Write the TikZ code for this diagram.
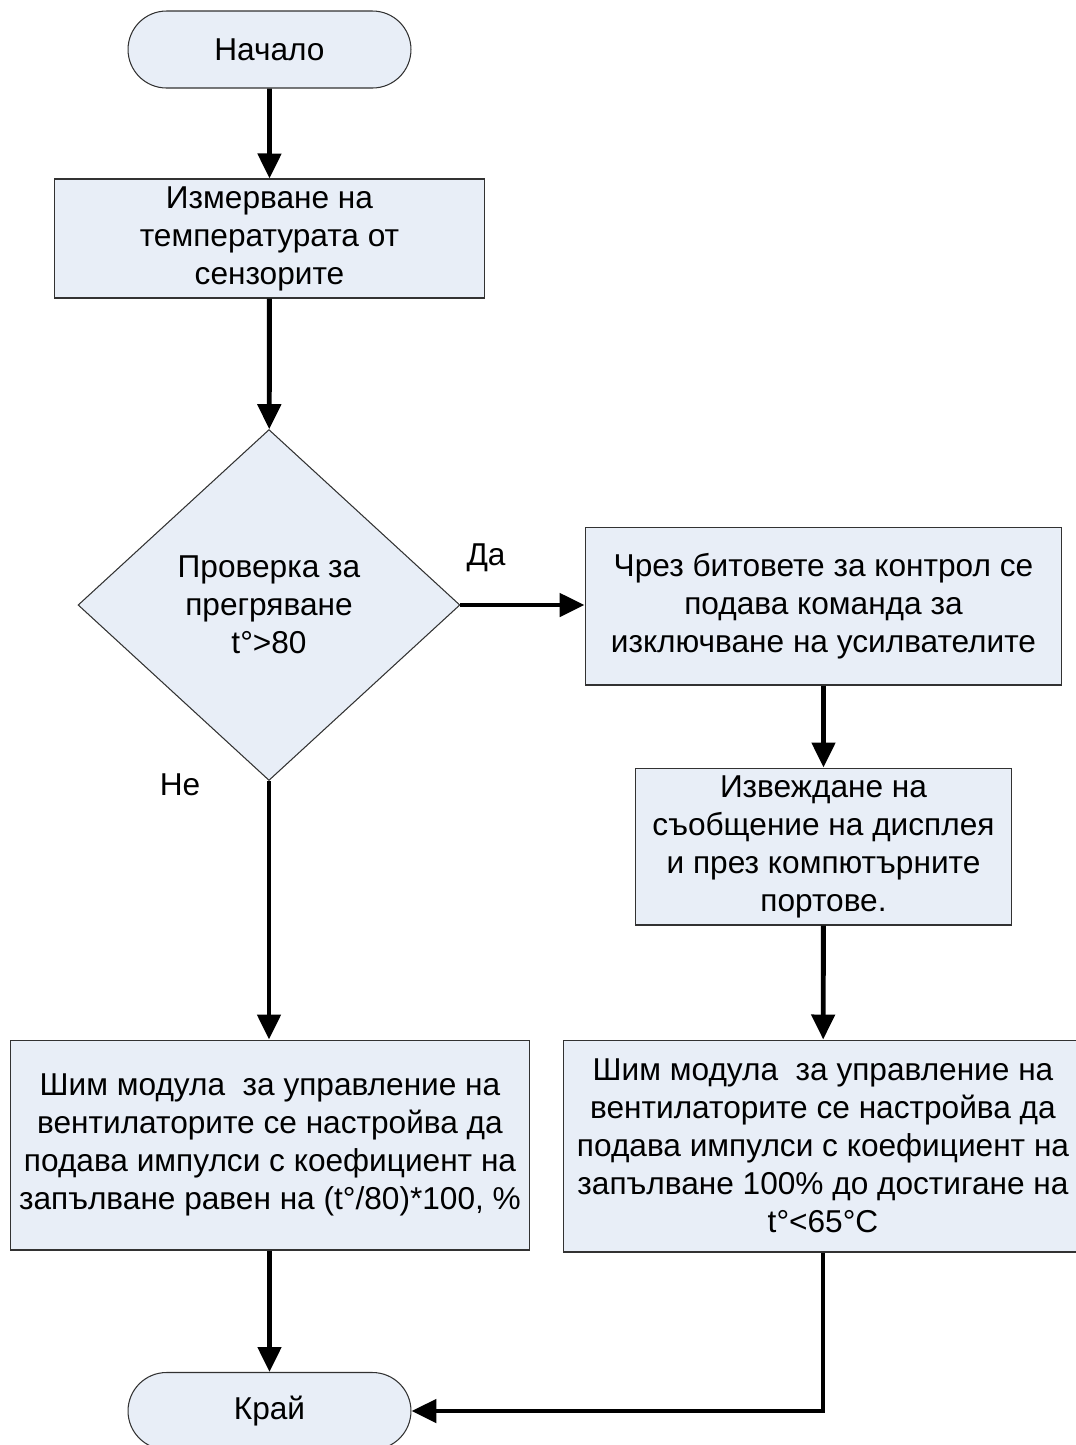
\documentclass[tikz,border=0pt]{standalone}
\usepackage{fontspec}
\setmainfont{Liberation Sans}
\usetikzlibrary{shapes.geometric,shapes.misc,arrows.meta}
\definecolor{boxfill}{RGB}{232,238,247}
\definecolor{boxline}{RGB}{50,50,50}
\tikzset{
  terminal/.style={rounded rectangle, draw=boxline, line width=0.6pt, fill=boxfill,
    minimum width=5.66cm, minimum height=1.54cm, inner sep=0pt},
  process/.style={rectangle, draw=boxline, line width=0.6pt, fill=boxfill,
    align=center, inner sep=0pt},
  decision/.style={diamond, draw=boxline, line width=0.6pt, fill=boxfill,
    align=center, inner sep=0pt, minimum width=7.64cm, minimum height=7.02cm},
  flow/.style={line width=2.8pt, -{Triangle[length=0.5cm,width=0.46cm]}},
}
\begin{document}
\begin{tikzpicture}[x=0.02cm, y=-0.02cm, font=\fontsize{18}{21.6}\selectfont]
    \useasboundingbox (0,0) rectangle (1076,1445);

    \node[terminal] (start) at (269.5,49.5) {Начало};
    \node[process, minimum width=8.62cm, minimum height=2.38cm] (measure) at (269.5,238.5)
        {Измерване на\\температурата от\\сензорите};
    \node[decision] (check) at (269,605) {Проверка за\\прегряване\\t°>80};
    \node[process, minimum width=9.54cm, minimum height=3.16cm] (shutdown) at (823.5,606)
        {Чрез битовете за контрол се\\подава команда за\\изключване на усилвателите};
    \node[process, minimum width=7.54cm, minimum height=3.14cm] (message) at (823.5,846.5)
        {Извеждане на\\съобщение на дисплея\\и през компютърните\\портове.};
    \node[process, minimum width=10.4cm, minimum height=4.2cm] (pwmnorm) at (270,1145)
        {Шим модула\ \ за управление на\\вентилаторите се настройва да\\подава импулси с коефициент на\\запълване равен на (t°/80)*100, \%};
    \node[process, minimum width=10.4cm, minimum height=4.24cm] (pwmfull) at (823,1146)
        {Шим модула\ \ за управление на\\вентилаторите се настройва да\\подава импулси с коефициент на\\запълване 100\% до достигане на\\t°<65°C};
    \node[terminal] (stop) at (269.5,1411) {Край};

    \node (yes) at (486,558) {Да};
    \node (no) at (180,785) {Не};

    \draw[flow] (start) -- (measure);
    \draw[flow] (measure) -- (check);
    \draw[flow] (check.east) -- (check.east -| shutdown.west);
    \draw[flow] (shutdown) -- (message);
    \draw[flow] (message) -- (pwmfull);
    \draw[flow] (check.south) -- (check.south |- pwmnorm.north);
    \draw[flow] (pwmnorm.south -| stop.north) -- (stop.north);
    \draw[flow] (pwmfull.south) |- (stop.east);

\end{tikzpicture}
\end{document}
